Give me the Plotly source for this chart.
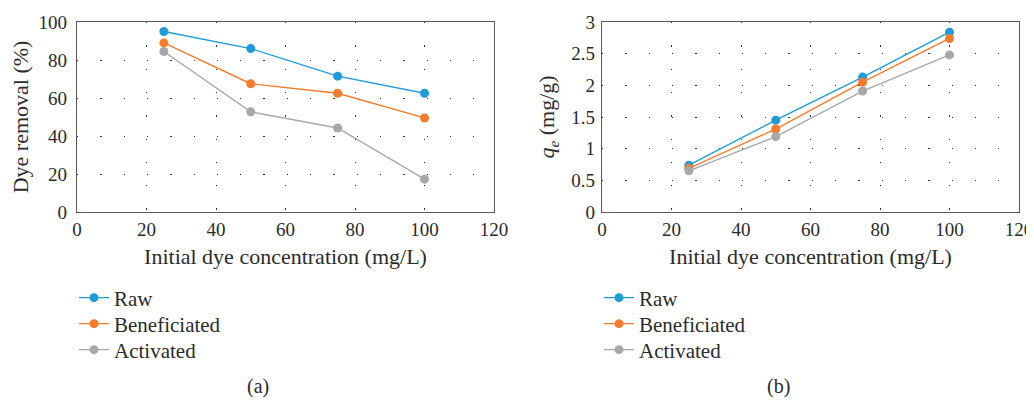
import plotly.graph_objects as go

conc = [25, 50, 75, 100]
series_names = ["Raw", "Beneficiated", "Activated"]
removal_raw = [95.0, 86.0, 71.5, 62.5]
removal_ben = [89.0, 67.5, 62.5, 49.5]
removal_act = [84.5, 52.7, 44.2, 17.3]
qe_raw = [0.74, 1.45, 2.13, 2.84]
qe_ben = [0.69, 1.31, 2.05, 2.74]
qe_act = [0.65, 1.19, 1.91, 2.48]
colors = ["#1F9CD8", "#F47C2C", "#A8A8A8"]

FONT = "Liberation Serif, Times New Roman, serif"
TXT = "#2b2b2b"

# page body has an 8px margin: work in page coordinates and shift
OFF = 8
W, H = 1034 - OFF, 400 - OFF
def px(x):
    return (x - OFF) / W
def py(y):
    return (H - (y - OFF)) / H

fig = go.Figure()
legend_ids = []
k = 0
for panel, (xa, ya, data, lx) in enumerate([
        ("x", "y", [removal_raw, removal_ben, removal_act], 74),
        ("x2", "y2", [qe_raw, qe_ben, qe_act], 599)]):
    for i, (name, ys, c) in enumerate(zip(series_names, data, colors)):
        k += 1
        lid = "legend" if k == 1 else f"legend{k}"
        legend_ids.append((lid, lx, 298 + 26 * i))
        fig.add_trace(go.Scatter(x=conc, y=ys, name=name, mode="lines+markers",
                                 line=dict(color=c, width=1.4), marker=dict(color=c, size=9),
                                 xaxis=xa, yaxis=ya, legend=lid))

ydom = [py(212), py(22)]

axis_common = dict(showline=True, mirror=True, linecolor="#5a5a5a", linewidth=1.2,
                   showgrid=True, gridcolor="#333", gridwidth=1, griddash="1.3px,22px",
                   zeroline=False, ticks="", automargin=False,
                   tickfont=dict(size=19, color=TXT, family=FONT),
                   title_font=dict(size=22, color=TXT, family=FONT))

layout = dict(
    width=W, height=H, margin=dict(l=0, r=0, t=0, b=0, autoexpand=False),
    paper_bgcolor="white", plot_bgcolor="white",
    font=dict(family=FONT, size=21, color=TXT),
    xaxis=dict(domain=[px(77), px(494)], range=[0, 120], dtick=20, anchor="y",
               title=dict(text="Initial dye concentration (mg/L)", standoff=9), **axis_common),
    yaxis=dict(domain=ydom, range=[0, 100], dtick=20, anchor="x", ticklabelstandoff=5,
               title=dict(text="Dye removal (%)", standoff=3), **axis_common),
    xaxis2=dict(domain=[px(602), px(1019)], range=[0, 120], dtick=20, anchor="y2",
                title=dict(text="Initial dye concentration (mg/L)", standoff=9), **axis_common),
    yaxis2=dict(domain=ydom, range=[0, 3], dtick=0.5, anchor="x2", ticklabelstandoff=2,
                title=dict(text="<i>q</i><sub><i>e</i></sub> (mg/g)", standoff=10), **axis_common),
    showlegend=True,
    annotations=[
        dict(text="(a)", x=px(258), y=py(386), xref="paper", yref="paper",
             xanchor="center", yanchor="middle",
             showarrow=False, font=dict(size=20, family=FONT, color=TXT)),
        dict(text="(b)", x=px(778), y=py(386), xref="paper", yref="paper",
             xanchor="center", yanchor="middle",
             showarrow=False, font=dict(size=20, family=FONT, color=TXT)),
    ],
)
for lid, lx, ly in legend_ids:
    layout[lid] = dict(x=px(lx), y=py(ly), xanchor="left", yanchor="middle",
                       font=dict(size=21, family=FONT, color=TXT),
                       bgcolor="rgba(0,0,0,0)", tracegroupgap=0)
fig.update_layout(**layout)

fig.write_html("out.html")
